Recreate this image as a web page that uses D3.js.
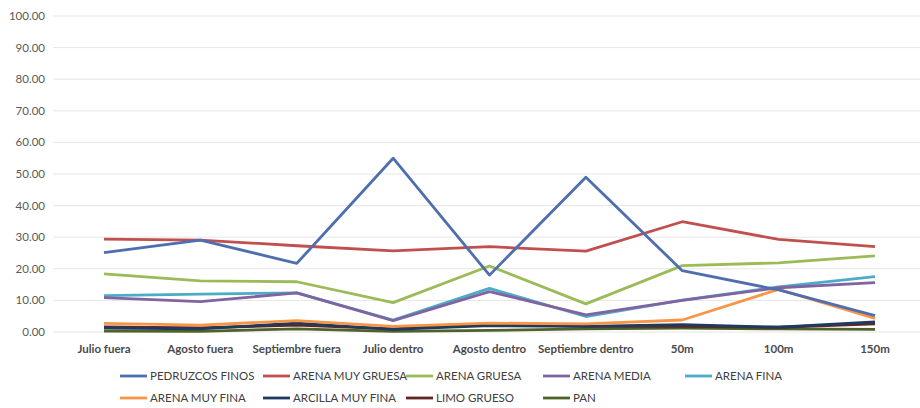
<!DOCTYPE html>
<html lang="es">
<head>
	<meta charset="UTF-8">
	<title>Granulometría</title>
	<script src="https://cdn.jsdelivr.net/npm/d3@7"></script>
	<style>
		body{ margin:0; background:#fff; }
		svg{ display:block; }
		.grid line{ stroke:#e6e6e6; stroke-width:1; }
		.ylab{ font-family:Lato, "Open Sans", sans-serif; font-size:11.5px; fill:#595959; }
		.xlab{ font-family:Lato, "Open Sans", sans-serif; font-size:11.5px; fill:#4a4a4a; font-weight:bold; }
		.leg{ font-family:Lato, "Open Sans", sans-serif; font-size:11.5px; fill:#404040; }
		.serie{ fill:none; stroke-width:2.8; stroke-linejoin:round; }
	</style>
</head>
<body>
	<svg width="920" height="408"></svg>
	<script>
		var categorias = ["Julio fuera","Agosto fuera","Septiembre fuera","Julio dentro","Agosto dentro","Septiembre dentro","50m","100m","150m"];
		var yTicks = [0,10,20,30,40,50,60,70,80,90,100];

		var pedruzcosFinos  = [25.1, 29.1, 21.7, 55.0, 18.0, 49.0, 19.4, 13.3, 5.2];
		var arenaMuyGruesa  = [29.4, 29.1, 27.3, 25.7, 27.0, 25.6, 34.9, 29.3, 27.0];
		var arenaGruesa     = [18.4, 16.2, 15.9, 9.3, 20.9, 8.9, 21.0, 21.9, 24.1];
		var arenaMedia      = [10.9, 9.6, 12.4, 3.6, 12.8, 5.4, 10.0, 14.0, 15.6];
		var arenaFina       = [11.5, 12.0, 12.4, 3.8, 13.8, 4.9, 10.1, 14.3, 17.5];
		var arenaMuyFina    = [2.7, 2.2, 3.6, 1.8, 2.8, 2.6, 3.8, 13.5, 4.3];
		var arcillaMuyFina  = [1.2, 1.0, 2.8, 0.8, 2.0, 1.8, 2.3, 1.5, 3.2];
		var limoGrueso      = [1.6, 1.3, 2.2, 1.0, 2.5, 1.8, 1.8, 1.5, 2.6];
		var pan             = [0.3, 0.2, 1.0, 0.2, 0.5, 1.0, 1.2, 1.0, 0.8];

		var series = [
			{name:"PEDRUZCOS FINOS", color:"#4f6eaf", values:pedruzcosFinos},
			{name:"ARENA MUY GRUESA", color:"#c0504d", values:arenaMuyGruesa},
			{name:"ARENA GRUESA", color:"#9bbb59", values:arenaGruesa},
			{name:"ARENA MEDIA", color:"#8064a2", values:arenaMedia},
			{name:"ARENA FINA", color:"#4bacc6", values:arenaFina},
			{name:"ARENA MUY FINA", color:"#f79646", values:arenaMuyFina},
			{name:"ARCILLA MUY FINA", color:"#1f3a5f", values:arcillaMuyFina},
			{name:"LIMO GRUESO", color:"#632523", values:limoGrueso},
			{name:"PAN", color:"#4f6228", values:pan}
		];

		var svg = d3.select("svg");

		var x = d3.scalePoint()
			.domain(categorias)
			.range([104, 875]);
		var y = d3.scaleLinear()
			.domain([0, 100])
			.range([332, 16]);

		// grid
		svg.append("g").attr("class","grid")
			.selectAll("line").data(yTicks).enter().append("line")
			.attr("x1", 53).attr("x2", 920)
			.attr("y1", d => y(d)).attr("y2", d => y(d));

		svg.append("g").selectAll("text").data(yTicks).enter().append("text")
			.attr("class","ylab")
			.attr("x", 45)
			.attr("y", d => y(d) + 4)
			.attr("text-anchor","end")
			.text(d => d.toFixed(2));

		svg.append("g").selectAll("text").data(categorias).enter().append("text")
			.attr("class","xlab")
			.attr("x", d => x(d))
			.attr("y", 353)
			.attr("text-anchor","middle")
			.text(d => d);

		var line = d3.line()
			.x((d,i) => x(categorias[i]))
			.y(d => y(d));

		// draw bottom series first so the big ones sit on top
		svg.append("g").selectAll("path").data(series.slice().reverse()).enter().append("path")
			.attr("class","serie")
			.attr("stroke", d => d.color)
			.attr("d", d => line(d.values));

		// legend
		var legX = [120, 263, 406, 543, 685];
		var legend = svg.append("g");
		series.forEach(function(s, i){
			var row = i < 5 ? 0 : 1;
			var col = i < 5 ? i : i - 5;
			var lx = legX[col], ly = row === 0 ? 376 : 398;
			legend.append("line")
				.attr("x1", lx).attr("x2", lx + 27)
				.attr("y1", ly).attr("y2", ly)
				.attr("stroke", s.color).attr("stroke-width", 2.8);
			legend.append("text")
				.attr("class","leg")
				.attr("x", lx + 30).attr("y", ly + 4)
				.text(s.name);
		});
	</script>
</body>
</html>
